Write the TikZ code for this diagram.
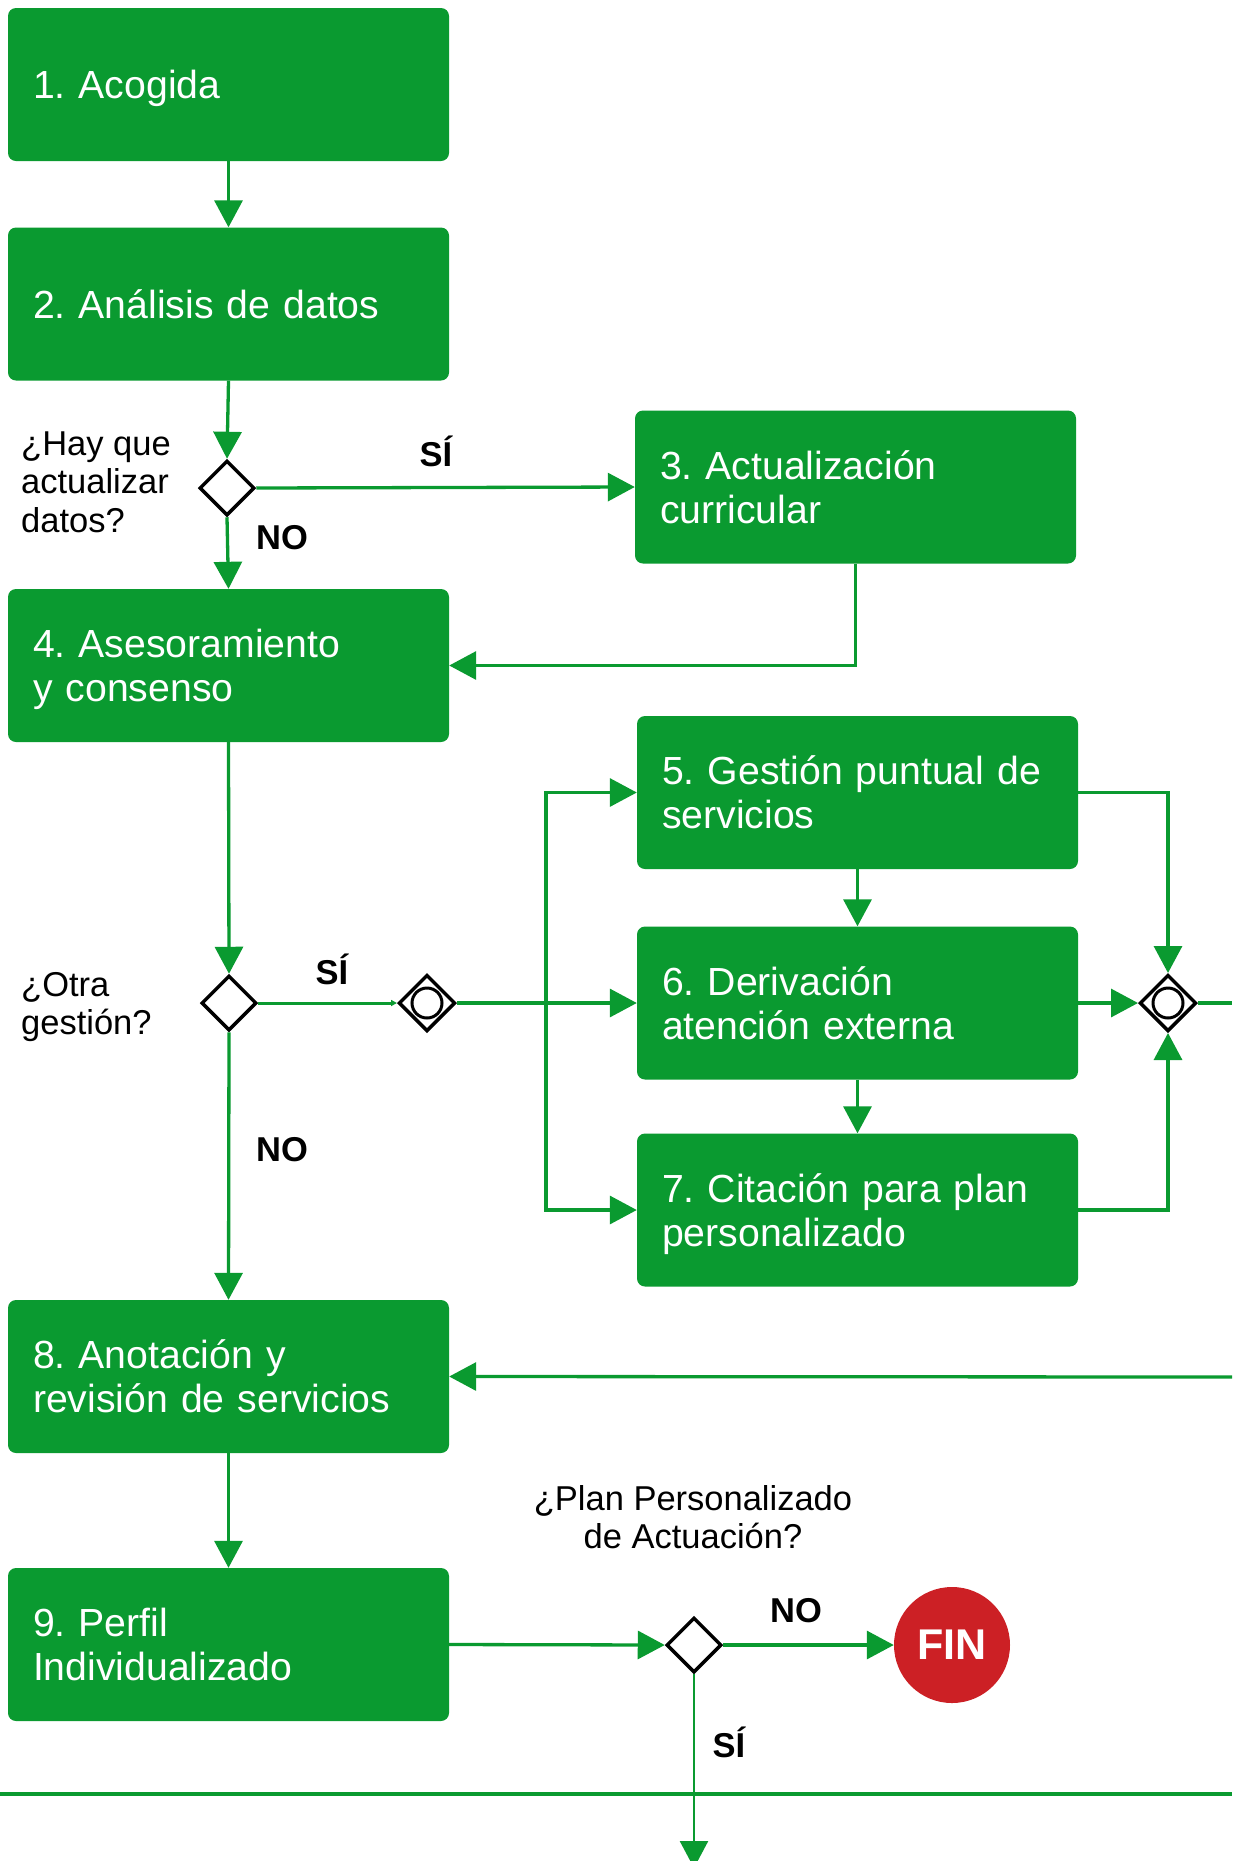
\documentclass[tikz,border=0pt]{standalone}
\usepackage{fontspec}
\setmainfont{Liberation Sans}
\usetikzlibrary{arrows.meta,shapes.geometric}
\definecolor{bpgreen}{RGB}{10,154,48}
\definecolor{finred}{RGB}{204,32,37}
\newcommand\boxtop{\rule{0pt}{0.93em}}
\newcommand\boxbot{\rule[-0.212em]{0pt}{0.212em}}
\frenchspacing
\begin{document}
\frenchspacing
\begin{tikzpicture}[x=1pt,y=-1pt,
 box/.style={rectangle, rounded corners=8pt, fill=bpgreen, text=white, text width=391pt, inner xsep=25pt, inner ysep=0pt, minimum height=153pt, align=left, font=\fontsize{39.2}{44}\selectfont\frenchspacing},
 gw/.style={diamond, draw=black, line width=3.5pt, minimum width=55pt, minimum height=55pt, inner sep=0pt, fill=white},
 ring/.style={circle, draw=black, line width=3pt, minimum size=30pt, inner sep=0pt},
 flow/.style={draw=bpgreen, line width=3.3pt, -{Triangle[length=27pt,width=28pt]}},
 link/.style={draw=bpgreen, line width=3.3pt},
 lbl/.style={font=\fontsize{34.5}{38.5}\selectfont, inner sep=0pt, align=left},
 yn/.style={font=\bfseries\fontsize{34.5}{38}\selectfont, inner sep=0pt}
]
\clip (0,0) rectangle (1232,1861);
\fill[white] (0,0) rectangle (1232,1861);

% boxes
\node[box] (b1) at (228.5,84.5) {\boxtop 1. Acogida\boxbot};
\node[box] (b2) at (228.5,304) {\boxtop 2. Análisis de datos\boxbot};
\node[box] (b3) at (855.5,487) {\boxtop 3. Actualización\\curricular\boxbot};
\node[box] (b4) at (228.5,665.5) {\boxtop 4. Asesoramiento\\y consenso\boxbot};
\node[box] (b5) at (857.5,792.5) {\boxtop 5. Gestión puntual de\\servicios\boxbot};
\node[box] (b6) at (857.5,1003) {\boxtop 6. Derivación\\atención externa\boxbot};
\node[box] (b7) at (857.5,1210) {\boxtop 7. Citación para plan\\personalizado\boxbot};
\node[box] (b8) at (228.5,1376.5) {\boxtop 8. Anotación y\\revisión de servicios\boxbot};
\node[box] (b9) at (228.5,1644.5) {\boxtop 9. Perfil\\Individualizado\boxbot};

% gateways
\node[gw] (d1) at (227,488) {};
\node[gw] (d2) at (229,1003) {};
\node[gw, minimum width=56.5pt, minimum height=56.5pt] (gi1) at (427,1003) {};
\node[ring] (gi1c) at (gi1.center) {};
\node[gw, minimum width=56.5pt, minimum height=56.5pt] (gi2) at (1168,1003) {};
\node[ring] (gi2c) at (gi2.center) {};
\node[gw] (d3) at (694,1645) {};
\node[circle, fill=finred, minimum size=116pt, inner sep=0pt, text=white, font=\bfseries\fontsize{43}{43}\selectfont] (fin) at (952,1645) {FIN};

% labels
\node[lbl, anchor=west] (q1) at (21,482) {¿Hay que\\actualizar\\datos?};
\node[yn] (s1) at (436,451) {SÍ};
\node[yn] (n1) at (282,538) {NO};
\node[lbl, anchor=west] (q2) at (21,1007) {¿Otra\\gestión?};
\node[yn] (s2) at (332,969) {SÍ};
\node[yn] (n2) at (282,1150) {NO};
\node[lbl, align=center] (q3) at (693,1517) {¿Plan Personalizado\\de Actuación?};
\node[yn] (n3) at (796,1611) {NO};
\node[yn] (s3) at (729,1742) {SÍ};

% connectors
\draw[flow] (b1.south) -- (b2.north);
\draw[flow] (b2.south) -- (d1.north);
\draw[flow] (d1.east) -- (b3.west);
\draw[flow] (d1.south) -- (b4.north);
\draw[flow] (b3.south) |- (b4.east);
\draw[flow] (b4.south) -- (d2.north);
\draw[link, line width=3pt, -{Triangle[length=6pt,width=6pt]}] (d2.east) -- (gi1.west);
\draw[flow] (gi1.east) -- (gi1.east -| b6.west);
\coordinate (j) at (546,1003);
\draw[flow] (j) |- (b5.west);
\draw[flow] (j) |- (b7.west);
\draw[flow] (b5.south) -- (b6.north);
\draw[flow] (b6.south) -- (b7.north);
\draw[flow] (b5.east) -| (gi2.north);
\draw[flow] (b7.east) -| (gi2.south);
\draw[flow] (b6.east) -- (gi2.west);
\coordinate (r1) at (1232,1003);
\draw[link] (gi2.east) -- (r1);
\coordinate (r2) at (1232,1377);
\draw[flow] (r2) -- (b8.east);
\draw[flow] (d2.south) -- (b8.north);
\draw[flow] (b8.south) -- (b9.north);
\draw[flow] (b9.east) -- (d3.west);
\draw[flow] (d3.east) -- (fin.west);
\coordinate (bot) at (694,1868);
\draw[link, line width=2.4pt, -{Triangle[length=27pt,width=28pt]}] (d3.south) -- (bot);
\coordinate (l1) at (0,1794);
\coordinate (l2) at (1232,1794);
\draw[link, line width=4pt] (l1) -- (l2);
\end{tikzpicture}
\end{document}
